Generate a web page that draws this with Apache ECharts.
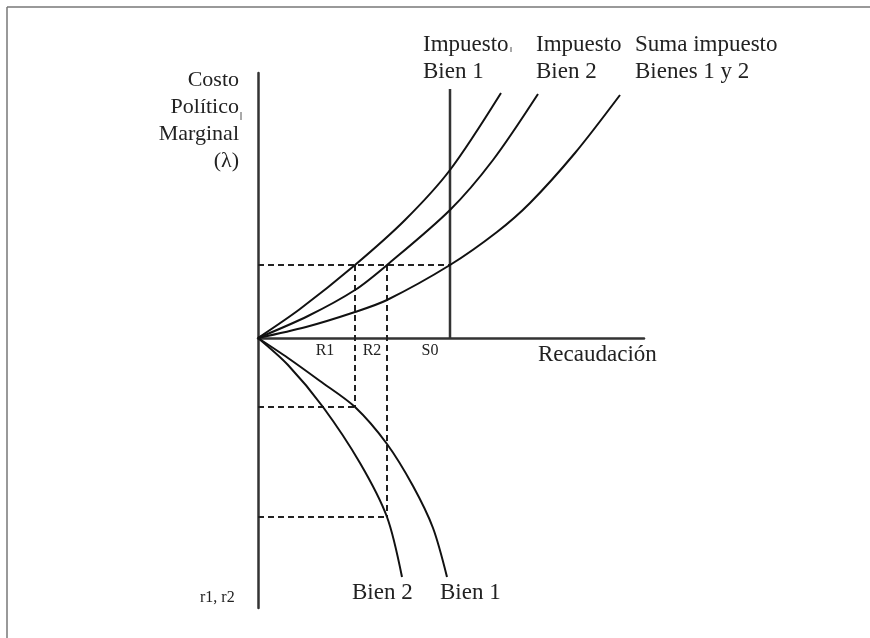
<!DOCTYPE html>
<html>
<head>
<meta charset="utf-8">
<title>Costo político marginal</title>
<script src="https://cdn.jsdelivr.net/npm/echarts@6/dist/echarts.min.js"></script>
<style>
  html, body { margin: 0; padding: 0; background: #fff; }
  #chart { width: 870px; height: 638px; }
</style>
</head>
<body>
<div id="chart"></div>
<script>
// curvas de costo politico marginal (x = recaudacion, y = lambda)
var upperBien1 = [[0, 0], [42, 29], [97, 73], [147, 118], [192, 168], [243, 245]];
var upperBien2 = [[0, 0], [50, 22], [97, 48], [129, 73], [192, 128], [235, 178], [280, 244]];
var upperSuma = [[0, 0], [48, 11], [97, 26], [129, 38], [192, 73], [239, 106], [272, 135], [317, 185], [362, 243]];
// parte inferior (r1, r2)
var lowerBien1 = [[0, 0], [30, -20], [62, -43], [97, -69], [129, -106], [155, -148], [175, -190], [189, -239]];
var lowerBien2 = [[0, 0], [30, -27], [65, -69], [102, -125], [129, -179], [144, -239]];
// punto S0 y niveles R1, R2
var s0 = 192, s0Top = 249;
var r1 = 97, r2 = 129;
var lambda0 = 73, lowR1 = -69, lowR2 = -179;

var serif = '"Liberation Serif", "Times New Roman", serif';
var black = '#111';

function solid(data) {
    return {
        type: 'line', data: data, smooth: 0.3, symbol: 'none',
        lineStyle: { color: black, width: 2 }, silent: true
    };
}
function dashed(data) {
    return {
        type: 'line', data: data, symbol: 'none',
        lineStyle: { color: '#222', width: 2, type: [6, 4] }, silent: true
    };
}
function txt(text, x, y, size, align) {
    return {
        type: 'text', silent: true,
        style: {
            text: text, x: x, y: y, fill: '#222',
            font: size + 'px ' + serif,
            align: align || 'left', verticalAlign: 'middle'
        }
    };
}
function mark(x1, y1, x2, y2, color, w) {
    return {
        type: 'line', silent: true,
        shape: { x1: x1, y1: y1, x2: x2, y2: y2 },
        style: { stroke: color, lineWidth: w }
    };
}

var myChart = echarts.init(document.getElementById('chart'));
myChart.setOption({
    animation: false,
    backgroundColor: '#fff',
    grid: { left: 258, top: 73, width: 386, height: 535 },
    xAxis: {
        type: 'value', min: 0, max: 386,
        axisLine: { onZero: true, lineStyle: { color: '#333', width: 2.5 } },
        axisTick: { show: false }, axisLabel: { show: false }, splitLine: { show: false }
    },
    yAxis: {
        type: 'value', min: -270, max: 265,
        axisLine: { show: true, onZero: false, lineStyle: { color: '#333', width: 2.5 } },
        axisTick: { show: false }, axisLabel: { show: false }, splitLine: { show: false }
    },
    series: [
        dashed([[0, lambda0], [s0, lambda0]]),
        dashed([[r1, lambda0], [r1, lowR1]]),
        dashed([[r2, lambda0], [r2, lowR2]]),
        dashed([[0, lowR1], [r1, lowR1]]),
        dashed([[0, lowR2], [r2, lowR2]]),
        {
            type: 'line', data: [[s0, 0], [s0, s0Top]], symbol: 'none', silent: true,
            lineStyle: { color: '#333', width: 2.5 }
        },
        solid(upperBien1),
        solid(upperBien2),
        solid(upperSuma),
        solid(lowerBien1),
        solid(lowerBien2)
    ],
    graphic: [
        // marco
        mark(7, 7, 870, 7, '#777', 1.5),
        mark(7, 7, 7, 638, '#777', 1.5),
        // pequeñas marcas del original
        mark(241, 112, 241, 120, '#555', 1),
        mark(511, 47, 511, 52, '#555', 1),
        txt('Costo', 239, 80, 22, 'right'),
        txt('Político', 239, 107, 22, 'right'),
        txt('Marginal', 239, 134, 22, 'right'),
        txt('(λ)', 239, 161, 22, 'right'),
        txt('Impuesto', 423, 45, 23),
        txt('Bien 1', 423, 72, 23),
        txt('Impuesto', 536, 45, 23),
        txt('Bien 2', 536, 72, 23),
        txt('Suma impuesto', 635, 45, 23),
        txt('Bienes 1 y 2', 635, 72, 23),
        txt('R1', 325, 351, 16, 'center'),
        txt('R2', 372, 351, 16, 'center'),
        txt('S0', 430, 351, 16, 'center'),
        txt('Recaudación', 538, 355, 23),
        txt('Bien 2', 352, 593, 23),
        txt('Bien 1', 440, 593, 23),
        txt('r1, r2', 200, 598, 16)
    ]
});
</script>
</body>
</html>
